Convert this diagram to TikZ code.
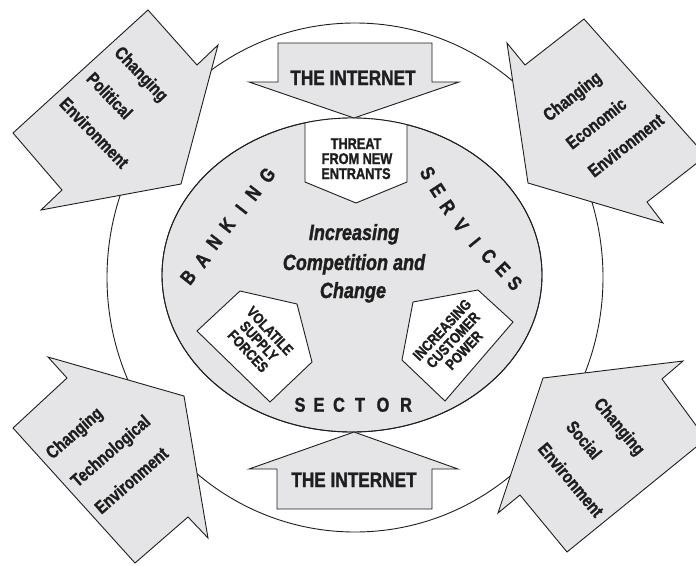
\documentclass[tikz,border=0pt]{standalone}
\usepackage{fontspec}
\newfontfamily\cf[FakeStretch=0.82, BoldFeatures={FakeBold=1.3}, BoldItalicFeatures={FakeBold=1.3}]{Liberation Sans}
\definecolor{fillg}{RGB}{229,229,231}
\definecolor{ink}{RGB}{30,30,30}
\begin{document}
\begin{tikzpicture}[x=1pt,y=-1pt,
  shp/.style={draw=ink, line width=0.9pt, fill=fillg, line join=miter},
  wbox/.style={draw=ink, line width=0.9pt, fill=white, line join=miter},
  envtxt/.style={font=\cf\bfseries\fontsize{18}{18}\selectfont, text=ink, inner sep=0pt, anchor=west, text height=13pt, text depth=0pt},
  lett/.style={font=\cf\bfseries\fontsize{20}{20}\selectfont, text=ink, inner sep=0pt, text height=14.3pt, text depth=0pt},
  nettxt/.style={font=\cf\bfseries\fontsize{21}{21}\selectfont, text=ink, inner sep=0pt, anchor=base},
  boxtxt/.style={font=\cf\bfseries\fontsize{15.5}{15.5}\selectfont, text=ink, inner sep=0pt, anchor=base},
  rottxt/.style={font=\cf\bfseries\fontsize{15}{15}\selectfont, text=ink, inner sep=0pt, align=center},
  midtxt/.style={font=\cf\bfseries\itshape\fontsize{22}{22}\selectfont, text=ink, inner sep=0pt, anchor=base}]
\useasboundingbox (0,0) rectangle (696,565);
\clip (0,0) rectangle (696,565);

% outer circle
\draw[draw=ink, line width=0.9pt] (355,277.5) ellipse [x radius=248, y radius=254.5];

% inner ellipse
\draw[shp] (352,275) ellipse [x radius=190, y radius=157];

% threat box (clipped to the ellipse)
\begin{scope}
  \clip (352,275) ellipse [x radius=190, y radius=157];
  \draw[wbox] (305,100) -- (305,182) -- (356,203) -- (407,182) -- (407,100) -- cycle;
\end{scope}
\draw[draw=ink, line width=0.9pt] (352,275) ellipse [x radius=190, y radius=157];

% volatile and customer boxes
\draw[wbox] (240,291) -- (297,304) -- (312,362) -- (270,402) -- (197,331) -- cycle;
\draw[wbox] (413,302) -- (478,290) -- (513,322) -- (445,401) -- (402,360) -- cycle;

% internet arrows
\draw[shp] (278,43) -- (432,43) -- (432,82) -- (459,82) -- (354,118) -- (249,82) -- (278,82) -- cycle;
\draw[shp] (277,509) -- (432,509) -- (432,469) -- (458,469) -- (354,432) -- (249,469) -- (277,469) -- cycle;

% environment arrows
\draw[shp] (148,10) -- (197,65) -- (218,45) -- (181,184) -- (41,210) -- (62,190) -- (13,133) -- cycle;
\draw[shp] (584,19) -- (525,65) -- (507,43) -- (528,183) -- (663,223) -- (647,202) -- (706,156) -- cycle;
\draw[shp] (13,428) -- (67,378) -- (48,357) -- (184,396) -- (208,538) -- (188,517) -- (135,563) -- cycle;
\draw[shp] (706,439) -- (662,379) -- (683,361) -- (543,378) -- (498,513) -- (520,495) -- (567,552) -- cycle;

% texts
\node[nettxt] (net1) at (353,85) {THE INTERNET};
\node[nettxt] (net2) at (354,487) {THE INTERNET};

\node[boxtxt] (th1) at (356,149) {THREAT};
\node[boxtxt] (th2) at (357,164) {FROM NEW};
\node[boxtxt] (th3) at (356,179) {ENTRANTS};

\node[midtxt] (m1) at (354,240) {Increasing};
\node[midtxt] (m2) at (354,270) {Competition and};
\node[midtxt] (m3) at (353,298) {Change};

\node[rottxt, rotate=-47] (vol) at (259,341) {VOLATILE\\SUPPLY\\FORCES};
\node[rottxt, rotate=47] (cus) at (453,340) {INCREASING\\CUSTOMER\\POWER};

% BANKING
\node[lett, rotate=52] (b1) at (188,277) {B};
\node[lett, rotate=52] (b2) at (202,260) {A};
\node[lett, rotate=52] (b3) at (214,242) {N};
\node[lett, rotate=52] (b4) at (227,225) {K};
\node[lett, rotate=52] (b5) at (241,209) {I};
\node[lett, rotate=52] (b6) at (253,193) {N};
\node[lett, rotate=52] (b7) at (267,175) {G};

% SERVICES
\node[lett, rotate=-58] (s1) at (428,173) {S};
\node[lett, rotate=-57] (s2) at (438,190) {E};
\node[lett, rotate=-55] (s3) at (448,207) {R};
\node[lett, rotate=-53] (s4) at (461,225) {V};
\node[lett, rotate=-51] (s5) at (475,242) {I};
\node[lett, rotate=-49] (s6) at (489,256) {C};
\node[lett, rotate=-47] (s7) at (503,269) {E};
\node[lett, rotate=-45] (s8) at (515,283) {S};

% SECTOR
\node[lett] (c1) at (300,404.5) {S};
\node[lett] (c2) at (319,404.5) {E};
\node[lett] (c3) at (339,404.5) {C};
\node[lett] (c4) at (360,404.5) {T};
\node[lett] (c5) at (383,404.5) {O};
\node[lett] (c6) at (406,404.5) {R};

% environment labels
\node[envtxt, rotate=-46] (p1) at (118,49) {Changing};
\node[envtxt, rotate=-46] (p2) at (90,75) {Political};
\node[envtxt, rotate=-46] (p3) at (63,100) {Environment};

\node[envtxt, rotate=38] (e1) at (545,117) {Changing};
\node[envtxt, rotate=38] (e2) at (568,145) {Economic};
\node[envtxt, rotate=38] (e3) at (590,173) {Environment};

\node[envtxt, rotate=41] (t1) at (48,455) {Changing};
\node[envtxt, rotate=41] (t2) at (73,483) {Technological};
\node[envtxt, rotate=41] (t3) at (97,510) {Environment};

\node[envtxt, rotate=-50] (o1) at (598,400) {Changing};
\node[envtxt, rotate=-50] (o2) at (570,423) {Social};
\node[envtxt, rotate=-50] (o3) at (542,445) {Environment};
\end{tikzpicture}
\end{document}
